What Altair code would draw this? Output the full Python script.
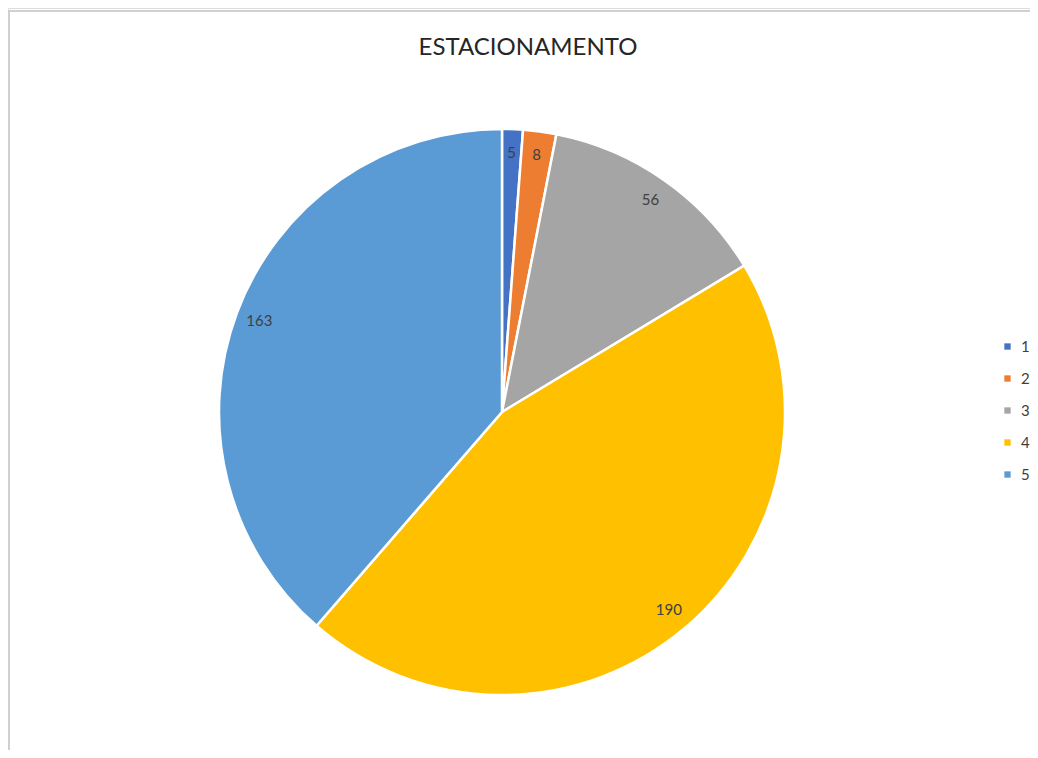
import altair as alt
import pandas as pd

categories = ["1", "2", "3", "4", "5"]
values = [5, 8, 56, 190, 163]
colors = ["#4472C4", "#ED7D31", "#A5A5A5", "#FFC000", "#5B9BD5"]
title_text = "ESTACIONAMENTO"

df = pd.DataFrame({"cat": categories, "value": values, "order": list(range(len(values)))})

W, H = 1022, 742
CX, CY, R = 494, 404, 283
FONT = "Lato"

base = alt.Chart(df).encode(
    theta=alt.Theta("value:Q", stack=True),
    order=alt.Order("order:Q"),
)

pie = base.mark_arc(stroke="white", strokeWidth=2.5, outerRadius=R).encode(
    color=alt.Color(
        "cat:N",
        scale=alt.Scale(domain=categories, range=colors),
        legend=alt.Legend(
            title=None,
            orient="none",
            legendX=992,
            legendY=331,
            symbolType="square",
            symbolSize=40,
            symbolStrokeWidth=0,
            labelFontSize=15,
            labelFont=FONT,
            labelColor="#404040",
            rowPadding=16,
            labelOffset=6,
            padding=0,
        ),
    ),
    x=alt.value(CX),
    y=alt.value(CY),
)

labels = base.mark_text(radius=259, fontSize=15, font=FONT, color="#404040").encode(
    text=alt.Text("value:Q"),
    x=alt.value(CX),
    y=alt.value(CY),
)

title = alt.Chart(pd.DataFrame({"t": [title_text]})).mark_text(
    fontSize=24, font=FONT, color="#262626"
).encode(text="t:N", x=alt.value(520), y=alt.value(40))

frame_top = alt.Chart(pd.DataFrame({"a": [0]})).mark_rule(color="#D0D0D0", strokeWidth=2).encode(
    x=alt.value(0), x2=alt.value(W + 10), y=alt.value(3)
)
frame_left = alt.Chart(pd.DataFrame({"a": [0]})).mark_rule(color="#D0D0D0", strokeWidth=2).encode(
    x=alt.value(1), y=alt.value(3), y2=alt.value(H + 10)
)

chart = alt.layer(frame_top, frame_left, pie, labels, title).properties(
    width=W, height=H, autosize=alt.AutoSizeParams(type="none"), padding=0
).configure_view(strokeWidth=0, stroke="transparent").configure(background="white")

chart.save("out.html", embed_options={"renderer": "svg", "actions": False})
